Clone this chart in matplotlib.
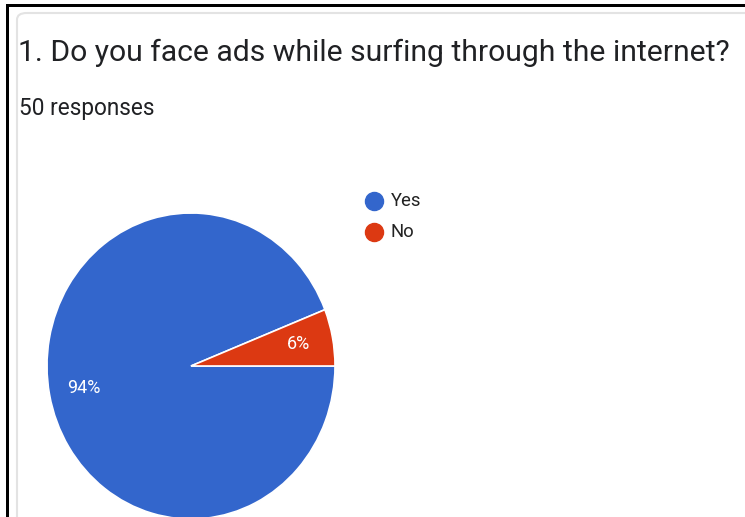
import matplotlib.pyplot as plt
from matplotlib.patches import FancyBboxPatch, Rectangle
from matplotlib.lines import Line2D

plt.rcParams['font.family'] = ['Roboto', 'DejaVu Sans']

# survey answers
labels = ['Yes', 'No']
shares = [94, 6]
colors = ['#3366cc', '#dc3912']
title = '1. Do you face ads while surfing through the internet?'
subtitle = '50 responses'

W, H = 745, 517
fig = plt.figure(figsize=(W / 100, H / 100), dpi=100)
fig.patch.set_facecolor('white')


def fx(x):
    return x / W


def fy(y):
    return 1 - y / H


# card outline with the rounded corner, then the black frame
card = FancyBboxPatch((fx(17), fy(530)), fx(760) - fx(17), fy(13) - fy(530),
                      boxstyle='round,pad=0,rounding_size=0.013',
                      transform=fig.transFigure, facecolor='white',
                      edgecolor='#e3e3e3', linewidth=1.5, zorder=-5)
fig.add_artist(card)
fig.add_artist(Rectangle((fx(6), fy(520)), fx(2.5), fy(4) - fy(520),
                         transform=fig.transFigure, color='black', lw=0))
fig.add_artist(Rectangle((fx(6), fy(6.5)), 1, fy(4) - fy(6.5),
                         transform=fig.transFigure, color='black', lw=0))

fig.text(fx(18), fy(53), title, fontsize=21.7, color='#202124', va='center')
fig.text(fx(19), fy(109), subtitle, fontsize=16.3, color='#202124', va='center')

# pie axes: centre (191, 366), radii 144 x 153 px
cx, cy, rx, ry = 191, 366, 144, 153
ax = fig.add_axes([fx(cx - rx), fy(cy + ry), fx(2 * rx), fy(cy - ry) - fy(cy + ry)])
ax.set_zorder(2)
wedges, texts, autotexts = ax.pie(
    shares, colors=colors, startangle=0, counterclock=False, radius=1,
    autopct='%d%%', pctdistance=0.76,
    wedgeprops=dict(edgecolor='white', linewidth=1.2),
    textprops=dict(color='white', fontsize=13))
ax.set_aspect('auto')
ax.set_xlim(-1, 1)
ax.set_ylim(-1, 1)
ax.axis('off')

# legend
for i, (lab, col) in enumerate(zip(labels, colors)):
    y = 201 + i * 31
    fig.add_artist(Line2D([fx(374)], [fy(y)], marker='o', markersize=13,
                          color=col, transform=fig.transFigure))
    fig.text(fx(391), fy(y), lab, fontsize=13.3, color='#222222', va='center')

fig.savefig('out.png', dpi=100)
